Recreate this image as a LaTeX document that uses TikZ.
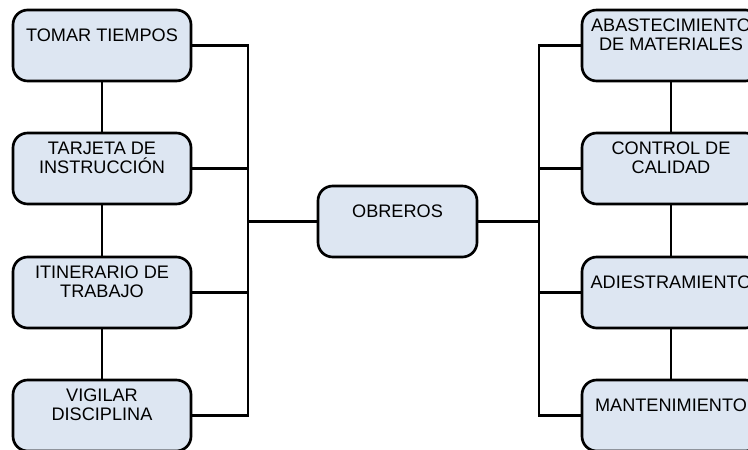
\documentclass[tikz,border=0pt]{standalone}
\usepackage{fontspec}
\setmainfont{Liberation Sans}
\definecolor{boxfill}{RGB}{221,230,242}
\begin{document}
\begin{tikzpicture}[x=0.75pt,y=-0.75pt,
  box/.style={draw=black, line width=2pt, fill=boxfill, rounded corners=11pt,
    minimum width=133.5pt, minimum height=53.25pt, inner sep=0pt},
  hub/.style={box, minimum width=119.25pt},
  lbl/.style={font=\fontsize{13.6}{14.6}\selectfont, align=center, inner sep=0pt},
  link/.style={draw=black, line width=2pt}]
\useasboundingbox (0,0) rectangle (748,449);
\clip (0,0) rectangle (748,449);

% bus lines
\coordinate (busL) at (248,0);
\coordinate (busR) at (539,0);

% left column
\node[box] (l1) at (102,45.5) {};
\node[box] (l2) at (102,168.5) {};
\node[box] (l3) at (102,292.5) {};
\node[box] (l4) at (102,415.5) {};
\node[lbl] (tl1) at (102,35) {TOMAR TIEMPOS};
\node[lbl] (tl2) at (102,158) {TARJETA DE\\INSTRUCCIÓN};
\node[lbl] (tl3) at (102,282) {ITINERARIO DE\\TRABAJO};
\node[lbl] (tl4) at (102,405) {VIGILAR\\DISCIPLINA};

% centre
\node[hub] (c) at (397.5,221.5) {};
\node[lbl] (tc) at (397.5,211) {OBREROS};

% right column
\node[box] (r1) at (671,45.5) {};
\node[box] (r2) at (671,168.5) {};
\node[box] (r3) at (671,292.5) {};
\node[box] (r4) at (671,415.5) {};
\node[lbl] (tr1) at (671,35) {ABASTECIMIENTO\\DE MATERIALES};
\node[lbl] (tr2) at (671,158) {CONTROL DE\\CALIDAD};
\node[lbl] (tr3) at (671,282) {ADIESTRAMIENTO};
\node[lbl] (tr4) at (671,405) {MANTENIMIENTO};

% vertical links inside each column
\draw[link] (l1.south) -- (l2.north);
\draw[link] (l2.south) -- (l3.north);
\draw[link] (l3.south) -- (l4.north);
\draw[link] (r1.south) -- (r2.north);
\draw[link] (r2.south) -- (r3.north);
\draw[link] (r3.south) -- (r4.north);

% left bus
\draw[link] (l1.east) -| (l4.east -| busL) -- (l4.east);
\draw[link] (l2.east) -- (l2.east -| busL);
\draw[link] (l3.east) -- (l3.east -| busL);
\draw[link] (c.west) -- (c.west -| busL);

% right bus
\draw[link] (r1.west) -| (r4.west -| busR) -- (r4.west);
\draw[link] (r2.west) -- (r2.west -| busR);
\draw[link] (r3.west) -- (r3.west -| busR);
\draw[link] (c.east) -- (c.east -| busR);
\end{tikzpicture}
\end{document}
